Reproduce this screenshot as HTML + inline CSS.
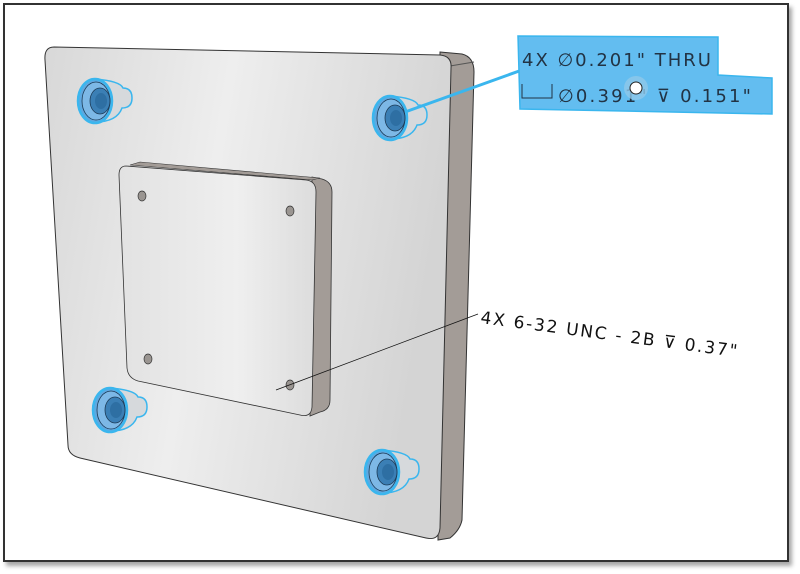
<!DOCTYPE html>
<html><head><style>
html,body{margin:0;padding:0;background:#fff;width:800px;height:574px;overflow:hidden}
</style></head><body>
<svg width="800" height="574" viewBox="0 0 800 574" xmlns="http://www.w3.org/2000/svg">
<defs>
<linearGradient id="face" x1="0" y1="0" x2="1" y2="0.2">
<stop offset="0" stop-color="#d8d8d8"/><stop offset="0.45" stop-color="#eeeeee"/><stop offset="1" stop-color="#d4d4d4"/>
</linearGradient>
<linearGradient id="face2" x1="0" y1="0" x2="1" y2="0">
<stop offset="0" stop-color="#e2e2e2"/><stop offset="0.6" stop-color="#efefef"/><stop offset="1" stop-color="#dcdcdc"/>
</linearGradient>
<filter id="sh" x="-5%" y="-5%" width="110%" height="110%"><feDropShadow dx="3" dy="4" stdDeviation="2" flood-color="#000" flood-opacity="0.35"/></filter>
<g id="cb">
<path d="M0,-21 Q25,-19 28,-12 Q37,-12 37,-2 Q37,8 27,8 Q22,22 0,22 Z" fill="#d6d9dc" stroke="#3ab6ee" stroke-width="1.5"/>
<ellipse cx="0" cy="1" rx="17" ry="22" fill="#5fa8e0" stroke="#3ab6ee" stroke-width="2.5"/>
<ellipse cx="1" cy="1" rx="14" ry="19" fill="#7db8e6" stroke="#1c3a55" stroke-width="0.8"/>
<ellipse cx="5" cy="1" rx="10" ry="13" fill="#3b7fb5" stroke="#1c3a55" stroke-width="0.8"/>
<ellipse cx="6" cy="1" rx="6" ry="8" fill="#2e6fa3"/>
</g>
</defs>
<rect x="4" y="4" width="784" height="557" fill="#fff" stroke="#333" stroke-width="2" filter="url(#sh)"/>
<path d="M440,52 L462,54 Q474,57 474,72 L462,520 Q460,530 450,538 L438,540 Z" fill="#a39c97" stroke="#333" stroke-width="1"/>
<path d="M450,66 L474,62" stroke="#555" fill="none"/>
<path d="M54,47 L440,55 Q452,56 451,68 L440,528 Q439,541 426,538 L80,458 Q68,455 68,445 L45,60 Q44,47 54,47 Z" fill="url(#face)" stroke="#333" stroke-width="1"/>
<path d="M312,177 L322,179 Q332,182 332,192 L330,400 Q330,410 320,412 L310,416 Z" fill="#a39c97" stroke="#333" stroke-width="0.8"/>
<path d="M130,165 L140,162 L320,178 L312,180 Z" fill="#a39c97" stroke="#333" stroke-width="0.6"/>
<path d="M126,166 L306,180 Q316,181 316,192 L312,407 Q311,418 300,415 L138,381 Q128,378 127,368 L119,175 Q119,166 126,166 Z" fill="url(#face2)" stroke="#333" stroke-width="0.8"/>
<g fill="#9a9591" stroke="#333" stroke-width="0.7">
<ellipse cx="142" cy="196" rx="4" ry="5"/><ellipse cx="290" cy="211" rx="4" ry="5"/>
<ellipse cx="148" cy="359" rx="4" ry="5"/><ellipse cx="290" cy="385" rx="4" ry="5"/>
</g>
<use href="#cb" x="390" y="117"/>
<use href="#cb" x="95" y="100"/>
<use href="#cb" x="110" y="409"/>
<use href="#cb" x="382" y="471"/>
<line x1="276" y1="390" x2="478" y2="314" stroke="#111" stroke-width="0.8"/>
<text x="480" y="323" font-family="DejaVu Sans, sans-serif" font-size="17" fill="#111" transform="rotate(7.5 480 323)" letter-spacing="1.8">4X 6-32 UNC - 2B ⊽ 0.37"</text>
<line x1="405" y1="112" x2="522" y2="70" stroke="#3ab6ee" stroke-width="3"/>
<path d="M518,36 L718,37 L718,75 L772,78 L772,114 L520,109 Z" fill="#63bdf0" stroke="#3ab6ee" stroke-width="1.5"/>
<text x="522" y="66" font-family="DejaVu Sans, sans-serif" font-size="18" fill="#234" letter-spacing="2">4X ∅0.201" THRU</text>
<path d="M522,84 L522,98 L552,98 L552,84" fill="none" stroke="#234" stroke-width="1"/>
<text x="558" y="102" font-family="DejaVu Sans, sans-serif" font-size="18" fill="#234" letter-spacing="2.2">∅0.391" ⊽ 0.151"</text>
<circle cx="636" cy="88" r="12" fill="#8ec8ea" opacity="0.8"/>
<circle cx="636" cy="88" r="6" fill="#fff" stroke="#222" stroke-width="1"/>
</svg>
</body></html>
